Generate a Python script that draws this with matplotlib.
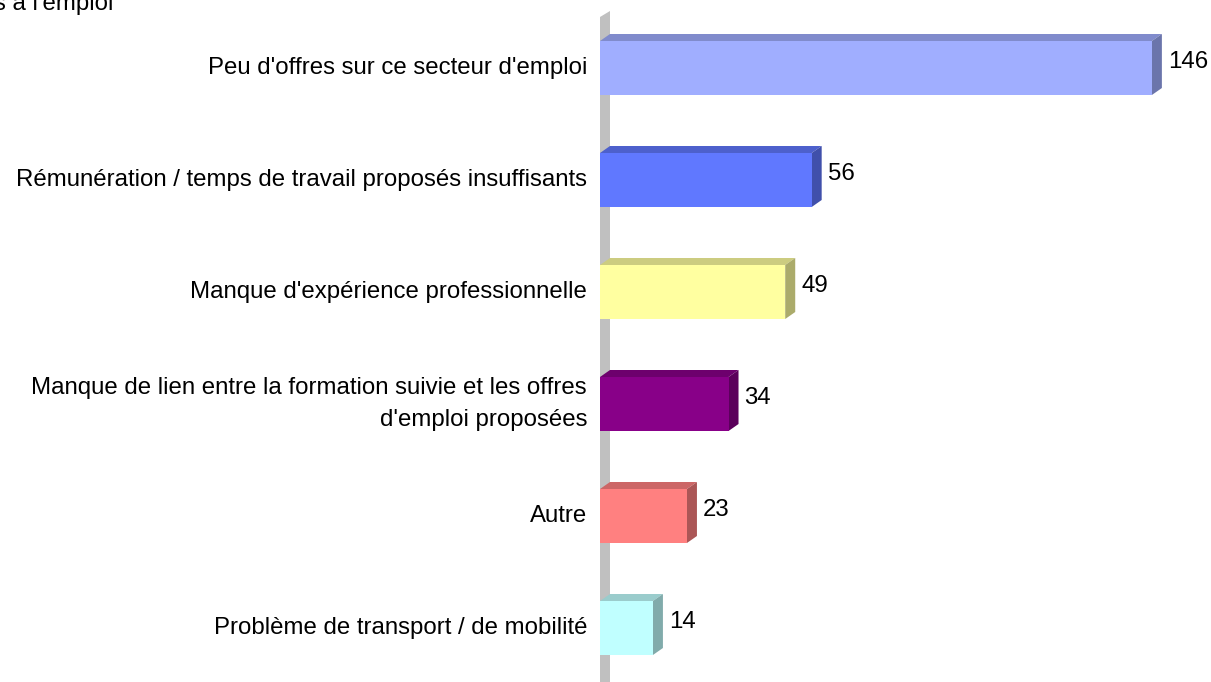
import matplotlib
matplotlib.use("Agg")
import matplotlib.pyplot as plt
from matplotlib.patches import Polygon
import matplotlib.colors as mc

categories = [
    "Peu d'offres sur ce secteur d'emploi",
    "Rémunération / temps de travail proposés insuffisants",
    "Manque d'expérience professionnelle",
    "Manque de lien entre la formation suivie et les offres\nd'emploi proposées",
    "Autre",
    "Problème de transport / de mobilité",
]
values = [146, 56, 49, 34, 23, 14]
colors = ["#A0AEFF", "#6078FF", "#FFFFA0", "#880088", "#FF8080", "#C0FFFF"]
title_fragment = "s à l'emploi"

W, H = 1211, 682
FS = 17.3
fig = plt.figure(figsize=(W / 100, H / 100), dpi=100)
ax = fig.add_axes([600 / W, 0, (W - 600) / W, 1])
px_per_unit = 3.78
xmax = (W - 600) / px_per_unit
ax.set_xlim(0, xmax)
ax.set_ylim((H - 68) / 112, -68 / 112)
ax.axis("off")

dx = 10 / px_per_unit
dy = 7 / 112
bh = 54 / 112

def shade(c, f):
    r, g, b = mc.to_rgb(c)
    return (r * f, g * f, b * f)

# wall
ybot = (H - 68) / 112
wall = Polygon([(0, ybot), (0, (17 - 68) / 112), (dx, (11 - 68) / 112), (dx, ybot)],
               closed=True, facecolor="#C0C0C0", edgecolor="none", zorder=1)
ax.add_patch(wall)

for i, (v, c) in enumerate(zip(values, colors)):
    y0 = i - bh / 2
    y1 = i + bh / 2
    # top face
    ax.add_patch(Polygon([(0, y0), (dx, y0 - dy), (v + dx, y0 - dy), (v, y0)],
                         closed=True, facecolor=shade(c, 0.8), edgecolor="none", zorder=2))
    # side face
    ax.add_patch(Polygon([(v, y0), (v + dx, y0 - dy), (v + dx, y1 - dy), (v, y1)],
                         closed=True, facecolor=shade(c, 0.67), edgecolor="none", zorder=2))
    ax.barh(i, v, height=bh, left=0, color=c, edgecolor="none", zorder=3)
    ax.text(v + dx + 6 / px_per_unit, i - 6 / 112, str(v), ha="left", va="center",
            fontsize=FS, family="Liberation Sans", color="black")
    fig.text(587 / W, 1 - (68 + 112 * i) / H, categories[i], ha="right", va="center",
             fontsize=FS, family="Liberation Sans", color="black", linespacing=1.55)

fig.text(-6 / W, 1 - 10 / H, title_fragment, ha="left", va="baseline",
         fontsize=FS, family="Liberation Sans", color="black")

fig.savefig("out.png", dpi=100)
